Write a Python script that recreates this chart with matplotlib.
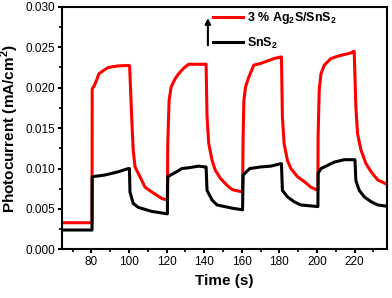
import matplotlib.pyplot as plt
from matplotlib.ticker import MultipleLocator

plt.rcParams['font.family'] = ['Liberation Sans', 'DejaVu Sans']
plt.rcParams['mathtext.fontset'] = 'custom'
plt.rcParams['mathtext.rm'] = 'Liberation Sans:bold'
plt.rcParams['mathtext.bf'] = 'Liberation Sans:bold'

# 3 % Ag2S/SnS2 (red)
t_red = [65, 80.3, 80.4, 81.2, 82.7, 83.9, 86.2, 88.9, 94.2, 99.9, 100.3,
         101.4, 102.2, 103.2, 105.8, 108.5, 112.1, 114.8, 117.4, 120.4,
         120.6, 121.3, 122.4, 124.5, 126.3, 129.0, 131.7, 140.6, 141.0,
         141.5, 142.4, 144.2, 145.9, 148.6, 152.2, 154.9, 160.4,
         160.7, 161.1, 162.0, 163.7, 166.4, 170.0, 173.6, 177.1, 180.7, 181.1,
         181.6, 182.5, 184.3, 186.1, 189.6, 193.2, 196.7, 200.5,
         200.6, 201.2, 202.1, 203.9, 207.4, 211.0, 214.5, 218.1, 219.5, 219.8,
         220.7, 221.6, 223.4, 226.1, 228.8, 232.3, 235.9, 238.6]
i_red = [0.0033, 0.0033, 0.0199, 0.0201, 0.0209, 0.0217, 0.0221, 0.0225, 0.0227, 0.02275, 0.0227,
         0.0164, 0.0123, 0.0102, 0.0090, 0.0077, 0.0071, 0.0067, 0.0063, 0.0061,
         0.0130, 0.0184, 0.0201, 0.0211, 0.0217, 0.0224, 0.0229, 0.0229, 0.0229,
         0.0164, 0.0131, 0.0110, 0.0098, 0.0088, 0.0079, 0.0074, 0.0071,
         0.0140, 0.0184, 0.0201, 0.0213, 0.0228, 0.0230, 0.0233, 0.0236, 0.0238, 0.0238,
         0.0164, 0.0131, 0.0110, 0.0100, 0.0090, 0.0084, 0.0077, 0.0073,
         0.0140, 0.0197, 0.0217, 0.0228, 0.0236, 0.0239, 0.0241, 0.0243, 0.0245, 0.0245,
         0.0176, 0.0143, 0.0123, 0.0106, 0.0096, 0.0086, 0.0082, 0.0079]

# SnS2 (black)
t_blk = [65, 80.3, 80.4, 84.0, 87.1, 90.7, 94.2, 99.6, 100.2,
         100.5, 102.2, 104.9, 112.1, 120.4,
         120.6, 124.5, 128.1, 131.7, 137.0, 140.6, 141.0,
         141.5, 144.2, 146.8, 154.9, 160.4,
         160.7, 164.2, 170.0, 175.4, 180.7, 181.1,
         181.6, 184.3, 187.8, 191.4, 200.3, 200.5,
         200.6, 202.1, 205.7, 209.2, 214.5, 219.8, 220.2,
         220.7, 222.5, 225.2, 228.8, 232.3, 238.6]
i_blk = [0.0024, 0.0024, 0.0090, 0.0091, 0.0092, 0.0094, 0.0096, 0.0100, 0.0100,
         0.0071, 0.0057, 0.0052, 0.0047, 0.0044,
         0.0090, 0.0095, 0.0100, 0.0101, 0.0103, 0.0102, 0.0102,
         0.0073, 0.0061, 0.0055, 0.0051, 0.0049,
         0.0092, 0.0100, 0.0102, 0.0103, 0.0106, 0.0106,
         0.0073, 0.0065, 0.0059, 0.0055, 0.0053, 0.0053,
         0.0094, 0.0100, 0.0104, 0.0108, 0.0111, 0.0111, 0.0111,
         0.0085, 0.0073, 0.0065, 0.0059, 0.0055, 0.0053]

fig = plt.figure(figsize=(3.92, 2.98), dpi=100)
ax = fig.add_axes([0.159, 0.163, 0.827, 0.814])

ax.plot(t_red, i_red, color='#ff0000', lw=2.2, label='3 % Ag$_2$S/SnS$_2$')
ax.plot(t_blk, i_blk, color='black', lw=2.2, label='SnS$_2$')

ax.set_xlim(64.5, 237)
ax.set_ylim(0, 0.030)
ax.xaxis.set_major_locator(MultipleLocator(20))
ax.xaxis.set_minor_locator(MultipleLocator(10))
ax.yaxis.set_major_locator(MultipleLocator(0.005))
ax.yaxis.set_minor_locator(MultipleLocator(0.0025))
ax.yaxis.set_major_formatter(lambda v, p: f'{v:.3f}')

for s in ax.spines.values():
    s.set_linewidth(1.5)
ax.tick_params(which='major', direction='out', length=3, width=1.5, labelsize=8.5, pad=2)
ax.tick_params(which='minor', direction='out', length=2, width=1.2)

ax.set_xlabel('Time (s)', fontsize=11, fontweight='bold', labelpad=4)
ax.set_ylabel('Photocurrent (mA/cm$^2$)', fontsize=11, fontweight='bold', labelpad=3)

leg = ax.legend(loc='upper left', bbox_to_anchor=(0.465, 0.985), frameon=False,
                prop={'weight': 'bold', 'size': 9}, handlelength=2.4,
                handletextpad=0.35, labelspacing=0.75, borderpad=0, borderaxespad=0)

ax.annotate('', xy=(0.449, 0.965), xytext=(0.449, 0.83), xycoords='axes fraction',
            arrowprops=dict(arrowstyle='-|>', color='black', lw=1.5, mutation_scale=8))

fig.savefig('out.png', dpi=100)
